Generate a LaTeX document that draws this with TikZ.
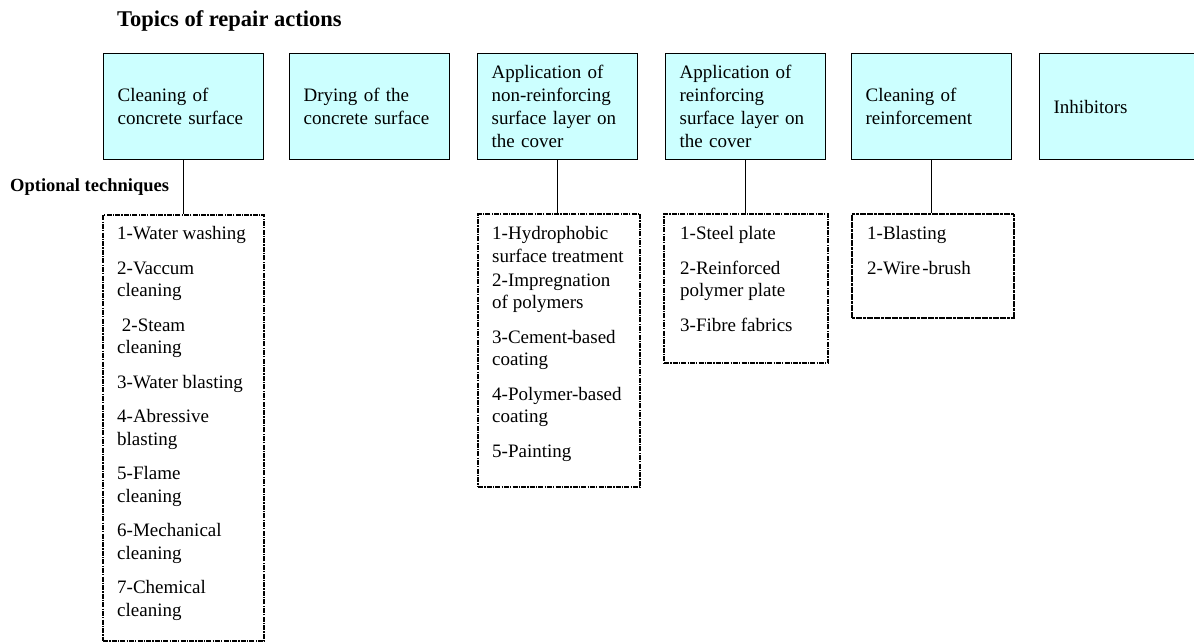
\documentclass[tikz,border=0pt]{standalone}
\usepackage{fontspec}
\setmainfont{Liberation Serif}
\definecolor{topfill}{HTML}{CCFFFF}
\begin{document}
\begin{tikzpicture}[x=1pt,y=-1pt,
  topic/.style={draw=black, line width=1.3pt, fill=topfill, rectangle, anchor=north west,
    minimum width=160pt, minimum height=106pt, text width=132pt, inner xsep=14pt, inner ysep=0pt,
    align=left, font=\fontsize{19}{23}\selectfont},
  listbox/.style={draw=black, line width=2.2pt, rectangle, anchor=north west, inner sep=0pt,
    dash pattern=on 5pt off 1.2pt on 1.2pt off 1.2pt},
  densebox/.style={draw=black, line width=2.4pt, rectangle, anchor=north west, inner sep=0pt,
    dash pattern=on 3pt off 0.6pt},
  listtext/.style={anchor=north west, align=left, inner sep=0pt, font=\fontsize{19}{22.5}\selectfont},
  link/.style={draw=black, line width=1.3pt}
]
\useasboundingbox (0,0) rectangle (1194,642);
\clip (0,0) rectangle (1194,642);

\node[anchor=base west, inner sep=0pt, font=\bfseries\fontsize{22.5}{26}\selectfont] (title) at (117,27) {Topics of repair actions};
\node[anchor=base west, inner sep=0pt, font=\bfseries\fontsize{18.5}{22}\selectfont] (opt) at (10,191) {Optional techniques};

\node[topic] (t1) at (103,53) {Cleaning of\\concrete surface};
\node[topic] (t2) at (289,53) {Drying of the\\concrete surface};
\node[topic] (t3) at (477,53) {Application of\\non-reinforcing\\surface layer on\\the cover};
\node[topic] (t4) at (665,53) {Application of\\reinforcing\\surface layer on\\the cover};
\node[topic] (t5) at (851,53) {Cleaning of\\reinforcement};
\node[topic, minimum width=170pt, text width=142pt] (t6) at (1039,53) {Inhibitors};

\node[listbox, minimum width=161pt, minimum height=426pt] (l1) at (102,214) {};
\node[listbox, minimum width=162pt, minimum height=273pt] (l3) at (477,213) {};
\node[listbox, minimum width=164pt, minimum height=149pt] (l4) at (663,213) {};
\node[densebox, minimum width=162pt, minimum height=104pt] (l5) at (851,213) {};

\node[listtext] (x1) at (117,226.5) {1-Water washing\\[12pt]2-Vaccum\\cleaning\\[12pt]\ 2-Steam\\cleaning\\[12pt]3-Water blasting\\[12pt]4-Abressive\\blasting\\[12pt]5-Flame\\cleaning\\[12pt]6-Mechanical\\cleaning\\[12pt]7-Chemical\\cleaning};
\node[listtext] (x3) at (492,226.5) {1-Hydrophobic\\surface treatment\\[1.5pt]2-Impregnation\\of polymers\\[12pt]3-Cement-\kern-1pt based\\coating\\[12pt]4-Polymer-based\\coating\\[12pt]5-Painting};
\node[listtext] (x4) at (680,226.5) {1-Steel plate\\[12pt]2-Reinforced\\polymer plate\\[12pt]3-Fibre fabrics};
\node[listtext] (x5) at (867,226.5) {1-Blasting\\[12pt]2-Wire\kern2pt-brush};

\draw[link] (t1.south) -- (t1.south |- l1.north);
\draw[link] (t3.south) -- (t3.south |- l3.north);
\draw[link] (t4.south) -- (t4.south |- l4.north);
\draw[link] (t5.south) -- (t5.south |- l5.north);
\end{tikzpicture}
\end{document}
